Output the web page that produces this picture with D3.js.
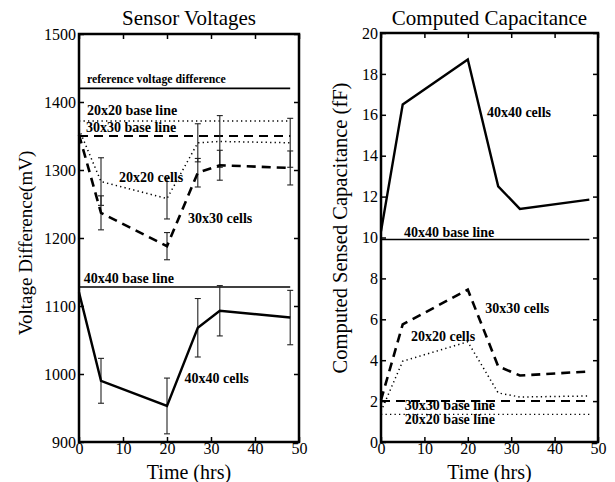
<!DOCTYPE html>
<html>
<head>
<meta charset="utf-8">
<script src="https://cdn.jsdelivr.net/npm/d3@7"></script>
<style>
  body { margin: 0; background: #fff; }
  text { font-family: "Liberation Serif", "Times New Roman", serif; }
  .lbl { font-weight: bold; font-size: 14px; }
</style>
</head>
<body>
<div id="chart-area"></div>
<script>
// Data
var hours = [0, 5, 20, 27, 32, 48];

// left panel: sensor voltages (mV)
var volt20 = [1360, 1283, 1258, 1340, 1342, 1340];
var volt20Err = [0, 35, 30, 28, 38, 36];
var volt30 = [1352, 1237, 1188, 1296, 1307, 1303];
var volt30Err = [0, 25, 20, 21, 22, 25];
var volt40 = [1120, 990, 953, 1068, 1093, 1083];
var volt40Err = [0, 33, 41, 43, 37, 40];
var voltBaseNames = ["reference voltage difference", "20x20 base line", "30x30 base line", "40x40 base line"];
var voltBaseValues = [1420, 1372, 1350, 1128];
var voltTicks = [900, 1000, 1100, 1200, 1300, 1400, 1500];

// right panel: computed capacitance (fF)
var cap20 = [1.5, 3.95, 4.9, 2.4, 2.2, 2.25];
var cap30 = [2.05, 5.75, 7.45, 3.7, 3.25, 3.45];
var cap40 = [10.3, 16.5, 18.7, 12.5, 11.4, 11.85];
var capBaseNames = ["40x40 base line", "30x30 base line", "20x20 base line"];
var capBaseValues = [9.9, 2.0, 1.35];
var capTicks = [0, 2, 4, 6, 8, 10, 12, 14, 16, 18, 20];

var timeTicks = [0, 10, 20, 30, 40, 50];

var W = 615, H = 482;
var svg = d3.select("#chart-area").append("svg")
    .attr("width", W)
    .attr("height", H);

var styles = {
  solid: {dash: null, width: 2.4},
  dashed: {dash: "9,6", width: 2.6},
  dotted: {dash: "1.3,3.2", width: 1.5}
};

function panel(opts) {
  var x = d3.scaleLinear().domain([0, 50]).range([opts.left, opts.right]);
  var y = d3.scaleLinear().domain(opts.yDomain).range([opts.bottom, opts.top]);
  var g = svg.append("g");

  // axes, ticks pointing inward
  g.append("g")
    .attr("transform", "translate(0," + opts.bottom + ")")
    .call(d3.axisBottom(x).tickValues(timeTicks).tickSize(-5).tickPadding(1).tickFormat(d3.format("d")));
  g.append("g")
    .attr("transform", "translate(0," + opts.top + ")")
    .call(d3.axisTop(x).tickValues(timeTicks).tickSize(-5).tickFormat(""));
  g.append("g")
    .attr("transform", "translate(" + opts.left + ",0)")
    .call(d3.axisLeft(y).tickValues(opts.yTicks).tickSize(-5).tickPadding(3).tickFormat(d3.format("d")));
  g.append("g")
    .attr("transform", "translate(" + opts.right + ",0)")
    .call(d3.axisRight(y).tickValues(opts.yTicks).tickSize(-5).tickFormat(""));

  g.selectAll(".domain").remove();
  g.selectAll(".tick line").attr("stroke", "#000").attr("stroke-width", 1.5);
  g.selectAll(".tick text")
    .attr("font-family", "Liberation Serif, serif")
    .attr("font-size", 16)
    .attr("fill", "#000");

  g.append("rect")
    .attr("x", opts.left).attr("y", opts.top)
    .attr("width", opts.right - opts.left)
    .attr("height", opts.bottom - opts.top)
    .attr("fill", "none")
    .attr("stroke", "#000")
    .attr("stroke-width", 2.5);

  // titles
  g.append("text")
    .attr("x", (opts.left + opts.right) / 2).attr("y", 25)
    .attr("text-anchor", "middle").attr("font-size", 21)
    .text(opts.title);
  g.append("text")
    .attr("x", (opts.left + opts.right) / 2).attr("y", 479)
    .attr("text-anchor", "middle").attr("font-size", 20)
    .text("Time (hrs)");
  g.append("text")
    .attr("transform", "translate(" + opts.yLabelX + "," + opts.yLabelY + ") rotate(-90)")
    .attr("text-anchor", "middle").attr("font-size", opts.yLabelSize)
    .text(opts.yLabel);

  // base lines (run from t=0 to t=48)
  opts.bases.forEach(function(b) {
    g.append("line")
      .attr("x1", x(0)).attr("x2", x(hours[hours.length - 1]))
      .attr("y1", y(b.value)).attr("y2", y(b.value))
      .attr("stroke", "#000")
      .attr("stroke-width", b.style == "solid" ? 1.6 : (b.style == "dashed" ? 2 : 1.4))
      .attr("stroke-dasharray", styles[b.style].dash);
  });

  // error bars
  opts.series.forEach(function(s) {
    if (!s.err) return;
    hours.forEach(function(t, i) {
      if (!s.err[i]) return;
      var cx = x(t), y1 = y(s.values[i] + s.err[i]), y2 = y(s.values[i] - s.err[i]);
      var eb = g.append("g").attr("stroke", "#222").attr("stroke-width", 1.1);
      eb.append("line").attr("x1", cx).attr("x2", cx).attr("y1", y1).attr("y2", y2);
      eb.append("line").attr("x1", cx - 3).attr("x2", cx + 3).attr("y1", y1).attr("y2", y1);
      eb.append("line").attr("x1", cx - 3).attr("x2", cx + 3).attr("y1", y2).attr("y2", y2);
    });
  });

  // series lines
  var line = d3.line()
    .x(function(d) { return x(d[0]); })
    .y(function(d) { return y(d[1]); });
  opts.series.forEach(function(s) {
    g.append("path")
      .datum(hours.map(function(t, i) { return [t, s.values[i]]; }))
      .attr("d", line)
      .attr("fill", "none")
      .attr("stroke", "#000")
      .attr("stroke-width", styles[s.style].width)
      .attr("stroke-dasharray", styles[s.style].dash);
  });

  // inline labels
  opts.labels.forEach(function(l) {
    g.append("text")
      .attr("class", "lbl")
      .attr("x", x(l.t)).attr("y", y(l.v))
      .style("font-size", l.size ? l.size + "px" : null)
      .text(l.text);
  });
}

panel({
  left: 79, right: 299, top: 34, bottom: 442,
  yDomain: [900, 1500], yTicks: voltTicks,
  title: "Sensor Voltages",
  yLabel: "Voltage Difference(mV)", yLabelX: 32, yLabelY: 243, yLabelSize: 19,
  bases: [
    {value: voltBaseValues[0], style: "solid"},
    {value: voltBaseValues[1], style: "dotted"},
    {value: voltBaseValues[2], style: "dashed"},
    {value: voltBaseValues[3], style: "solid"}
  ],
  series: [
    {values: volt20, err: volt20Err, style: "dotted"},
    {values: volt30, err: volt30Err, style: "dashed"},
    {values: volt40, err: volt40Err, style: "solid"}
  ],
  labels: [
    {text: voltBaseNames[0], t: 1.8, v: 1428, size: 11.8},
    {text: voltBaseNames[1], t: 1.8, v: 1381},
    {text: voltBaseNames[2], t: 1.6, v: 1356},
    {text: voltBaseNames[3], t: 1.1, v: 1134},
    {text: "20x20 cells", t: 9.1, v: 1283},
    {text: "30x30 cells", t: 24.8, v: 1222},
    {text: "40x40 cells", t: 24, v: 987}
  ]
});

panel({
  left: 381, right: 598, top: 33, bottom: 442,
  yDomain: [0, 20], yTicks: capTicks,
  title: "Computed Capacitance",
  yLabel: "Computed Sensed Capacitance (fF)", yLabelX: 347, yLabelY: 228, yLabelSize: 20.5,
  bases: [
    {value: capBaseValues[0], style: "solid"},
    {value: capBaseValues[1], style: "dashed"},
    {value: capBaseValues[2], style: "dotted"}
  ],
  series: [
    {values: cap20, style: "dotted"},
    {values: cap30, style: "dashed"},
    {values: cap40, style: "solid"}
  ],
  labels: [
    {text: capBaseNames[0], t: 5.3, v: 10.02},
    {text: "40x40 cells", t: 24.4, v: 15.9},
    {text: "30x30 cells", t: 24, v: 6.31},
    {text: "20x20 cells", t: 6.9, v: 4.95},
    {text: capBaseNames[1], t: 5.5, v: 1.56},
    {text: capBaseNames[2], t: 5.5, v: 0.88}
  ]
});
</script>
</body>
</html>
